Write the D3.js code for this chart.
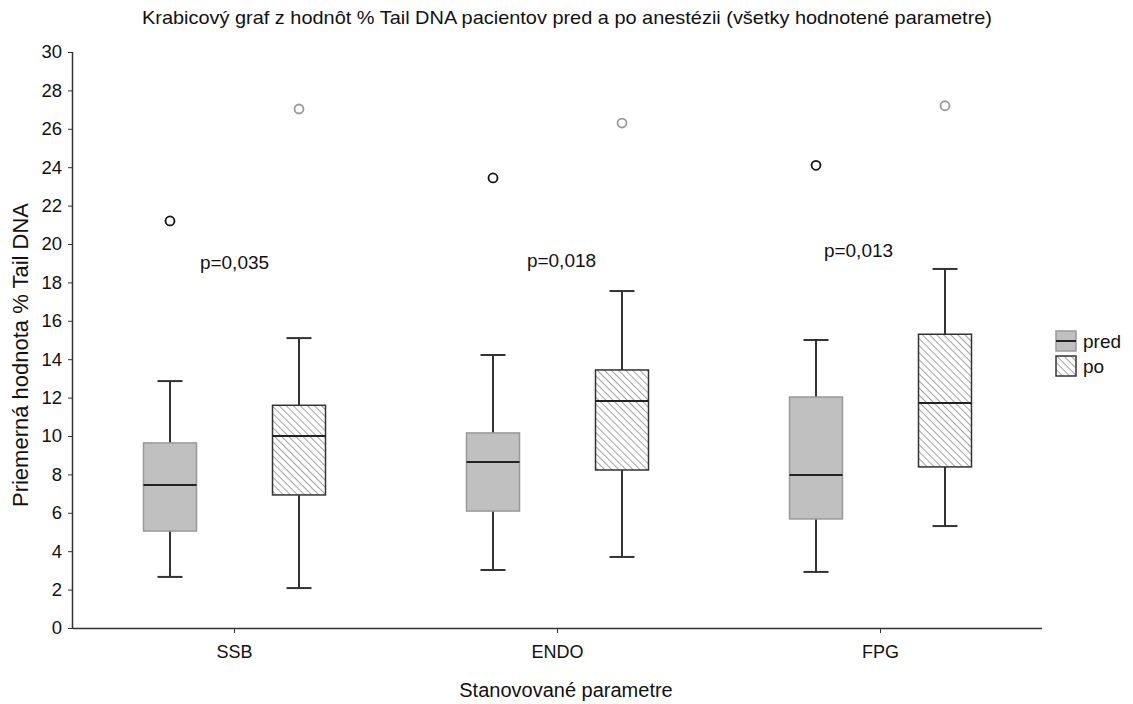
<!DOCTYPE html>
<html lang="sk">
  <head>
    <meta charset="UTF-8" />
    <title>Krabicový graf</title>
    <script src="https://d3js.org/d3.v7.min.js"></script>
    <style>
      body { margin: 0; background: #fff; }
      text { font-family: "Liberation Sans", Arial, sans-serif; fill: #111; }
    </style>
  </head>
  <body>
    <svg id="canvas"></svg>
  </body>
  <script>
    // data
    let categories = ["SSB", "ENDO", "FPG"];
    let groups = ["pred", "po"];
    // [dolny fúz, Q1, medián, Q3, horny fúz]
    let predStats = [
      [2.66, 5.05, 7.45, 9.64, 12.86],
      [3.02, 6.09, 8.65, 10.16, 14.22],
      [2.92, 5.68, 7.97, 12.03, 15.0]
    ];
    let poStats = [
      [2.08, 6.93, 10.0, 11.6, 15.1],
      [3.7, 8.23, 11.82, 13.44, 17.55],
      [5.31, 8.39, 11.72, 15.3, 18.7]
    ];
    let predOutliers = [21.2, 23.44, 24.1];
    let poOutliers = [27.03, 26.3, 27.2];
    let pValues = ["p=0,035", "p=0,018", "p=0,013"];
    let pLabelY = [18.7, 18.8, 19.3];
    let yTicks = [0, 2, 4, 6, 8, 10, 12, 14, 16, 18, 20, 22, 24, 26, 28, 30];

    let width = 1133;
    let height = 704;
    let plotLeft = 73, plotRight = 1042, plotTop = 52, plotBottom = 628;
    let boxWidth = 53;
    let capWidth = 25;

    let svg = d3.select("svg").attr("width", width).attr("height", height);

    let defs = svg.append("defs");
    let pat = defs.append("pattern")
      .attr("id", "hatch")
      .attr("patternUnits", "userSpaceOnUse")
      .attr("width", 5)
      .attr("height", 5)
      .attr("patternTransform", "rotate(-45)");
    pat.append("rect").attr("width", 5).attr("height", 5).attr("fill", "#fff");
    pat.append("line")
      .attr("x1", 0).attr("y1", 0).attr("x2", 0).attr("y2", 5)
      .attr("stroke", "#555").attr("stroke-width", 1.1);

    let xScale = d3.scaleBand().domain(categories).range([plotLeft, plotRight]);
    let inner = d3.scalePoint().domain(groups).range([-64.5, 64.5]);
    let yScale = d3.scaleLinear().domain([0, 30]).range([plotBottom, plotTop]);

    let styles = {
      pred: { fill: "#c0c0c0", stroke: "#999", outlier: "#111" },
      po: { fill: "url(#hatch)", stroke: "#333", outlier: "#999" }
    };

    // axes
    let xAxis = d3.axisBottom(xScale).tickSize(5).tickPadding(12);
    let yAxis = d3.axisLeft(yScale).tickValues(yTicks).tickSize(5).tickPadding(6);

    let gx = svg.append("g")
      .attr("transform", "translate(0," + plotBottom + ")")
      .call(xAxis);
    gx.select(".domain").attr("d", "M" + plotLeft + ",0.5H" + plotRight).attr("stroke", "#333").attr("stroke-width", 1.5);
    gx.selectAll(".tick line").attr("stroke", "#333");
    gx.selectAll("text").style("font-size", "18px").attr("fill", "#111");

    let gy = svg.append("g")
      .attr("transform", "translate(" + plotLeft + ",0)")
      .call(yAxis);
    gy.select(".domain").attr("d", "M-0.5," + plotTop + "V" + plotBottom).attr("stroke", "#333").attr("stroke-width", 1.5);
    gy.selectAll(".tick line").attr("stroke", "#333");
    gy.selectAll("text").style("font-size", "18.5px").attr("fill", "#111");

    // boxes
    let drawGroup = (g, stats, outliers) => {
      let st = styles[g];
      stats.forEach((s, i) => {
        let cx = xScale(categories[i]) + xScale.bandwidth() / 2 + inner(g);
        let grp = svg.append("g");
        grp.append("line")
          .attr("x1", cx).attr("x2", cx)
          .attr("y1", yScale(s[0])).attr("y2", yScale(s[4]))
          .attr("stroke", "#333").attr("stroke-width", 2);
        [s[0], s[4]].forEach((v) => {
          grp.append("line")
            .attr("x1", cx - capWidth / 2).attr("x2", cx + capWidth / 2)
            .attr("y1", yScale(v)).attr("y2", yScale(v))
            .attr("stroke", "#333").attr("stroke-width", 2);
        });
        grp.append("rect")
          .attr("x", cx - boxWidth / 2)
          .attr("width", boxWidth)
          .attr("y", yScale(s[3]))
          .attr("height", yScale(s[1]) - yScale(s[3]))
          .attr("fill", st.fill)
          .attr("stroke", st.stroke)
          .attr("stroke-width", 1.5);
        grp.append("line")
          .attr("x1", cx - boxWidth / 2).attr("x2", cx + boxWidth / 2)
          .attr("y1", yScale(s[2])).attr("y2", yScale(s[2]))
          .attr("stroke", "#222").attr("stroke-width", 2);
        grp.append("circle")
          .attr("cx", cx)
          .attr("cy", yScale(outliers[i]))
          .attr("r", 4.5)
          .attr("fill", "none")
          .attr("stroke", st.outlier)
          .attr("stroke-width", 1.8);
      });
    };
    drawGroup("pred", predStats, predOutliers);
    drawGroup("po", poStats, poOutliers);

    // p-values
    svg.selectAll(".pval")
      .data(pValues)
      .enter()
      .append("text")
      .attr("class", "pval")
      .attr("x", (d, i) => xScale(categories[i]) + xScale.bandwidth() / 2 + [0, 4, -22][i])
      .attr("y", (d, i) => yScale(pLabelY[i]))
      .attr("text-anchor", "middle")
      .style("font-size", "19px")
      .text((d) => d);

    // titles
    svg.append("text")
      .attr("x", 567).attr("y", 24)
      .attr("text-anchor", "middle")
      .attr("textLength", 850)
      .attr("lengthAdjust", "spacingAndGlyphs")
      .style("font-size", "19px")
      .text("Krabicový graf z hodnôt % Tail DNA pacientov pred a po anestézii (všetky hodnotené parametre)");

    svg.append("text")
      .attr("x", 566).attr("y", 697)
      .attr("text-anchor", "middle")
      .style("font-size", "20px")
      .text("Stanovované parametre");

    svg.append("text")
      .attr("transform", "translate(28," + 355 + ") rotate(-90)")
      .attr("text-anchor", "middle")
      .style("font-size", "22px")
      .text("Priemerná hodnota % Tail DNA");

    // legend
    let legend = svg.append("g").attr("transform", "translate(1056,331)");
    groups.forEach((g, i) => {
      let row = legend.append("g").attr("transform", "translate(0," + i * 25 + ")");
      row.append("rect")
        .attr("width", 20).attr("height", 20)
        .attr("fill", styles[g].fill)
        .attr("stroke", styles[g].stroke)
        .attr("stroke-width", 1.5);
      if (g === "pred") {
        row.append("line")
          .attr("x1", 0).attr("x2", 20).attr("y1", 10).attr("y2", 10)
          .attr("stroke", "#222").attr("stroke-width", 2);
      }
      row.append("text")
        .attr("x", 27).attr("y", 17)
        .style("font-size", "19px")
        .text(g);
    });
  </script>
</html>
